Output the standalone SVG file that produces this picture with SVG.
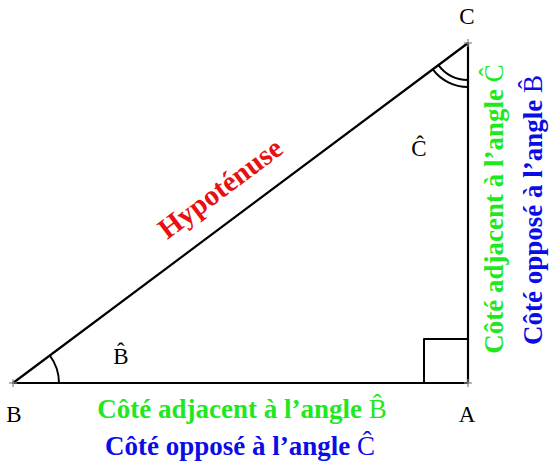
<svg xmlns="http://www.w3.org/2000/svg" width="550" height="470" viewBox="0 0 550 470">
<style>
.edge{fill:none;stroke:#000;stroke-width:2.2;stroke-linecap:round;stroke-linejoin:round}
.arc{fill:none;stroke:#000;stroke-width:2}
.tick{stroke:#888;stroke-width:1.2}
.lbl{font-family:"Liberation Serif","Times New Roman",serif;font-size:23px;fill:#000;text-anchor:middle}
.side{font-family:"Liberation Serif","Times New Roman",serif;font-size:27px;font-weight:bold;text-anchor:middle}
.hat{font-weight:normal}
.green{fill:#1ee81e}
.blue{fill:#0c0ce6}
.red{fill:#e81010}
</style>
<rect width="550" height="470" fill="#fff"/>
<g id="connectors">
<path class="edge" d="M13,383 L468,383 L468,43 Z"/>
<path class="edge" d="M424,383 V339 H468" style="stroke-width:2"/>
<path class="arc" d="M59,383 A46,46 0 0 0 49.8,355.5"/>
<path class="arc" d="M468,80 A37,37 0 0 1 438.4,65.2"/>
<path class="arc" d="M468,87 A44,44 0 0 1 432.8,69.4"/>
<g class="tick">
<line x1="13" y1="379" x2="13" y2="387"/><line x1="9" y1="383" x2="17" y2="383"/>
<line x1="468" y1="379" x2="468" y2="387"/><line x1="464" y1="383" x2="472" y2="383"/>
<line x1="468" y1="39" x2="468" y2="47"/><line x1="464" y1="43" x2="472" y2="43"/>
</g>
</g>
<g id="B"><text class="lbl" x="14" y="422">B</text></g>
<g id="A"><text class="lbl" x="467" y="422">A</text></g>
<g id="C"><text class="lbl" x="467" y="24">C</text></g>
<g id="angleB"><text class="lbl" x="121" y="364">B̂</text></g>
<g id="angleC"><text class="lbl" x="419" y="156">Ĉ</text></g>
<g id="hypotenuse"><text class="side red" style="font-size:29px" transform="translate(226,196) rotate(-36.77)">Hypoténuse</text></g>
<g id="adjB"><text class="side green" x="242" y="418">Côté adjacent à l’angle <tspan class="hat">B̂</tspan></text></g>
<g id="oppC"><text class="side blue" x="240" y="455">Côté opposé à l’angle <tspan class="hat">Ĉ</tspan></text></g>
<g id="adjC"><text class="side green" transform="translate(503,209) rotate(-90)">Côté adjacent à l’angle <tspan class="hat">Ĉ</tspan></text></g>
<g id="oppB"><text class="side blue" transform="translate(542,210) rotate(-90)">Côté opposé à l’angle <tspan class="hat">B̂</tspan></text></g>
</svg>
